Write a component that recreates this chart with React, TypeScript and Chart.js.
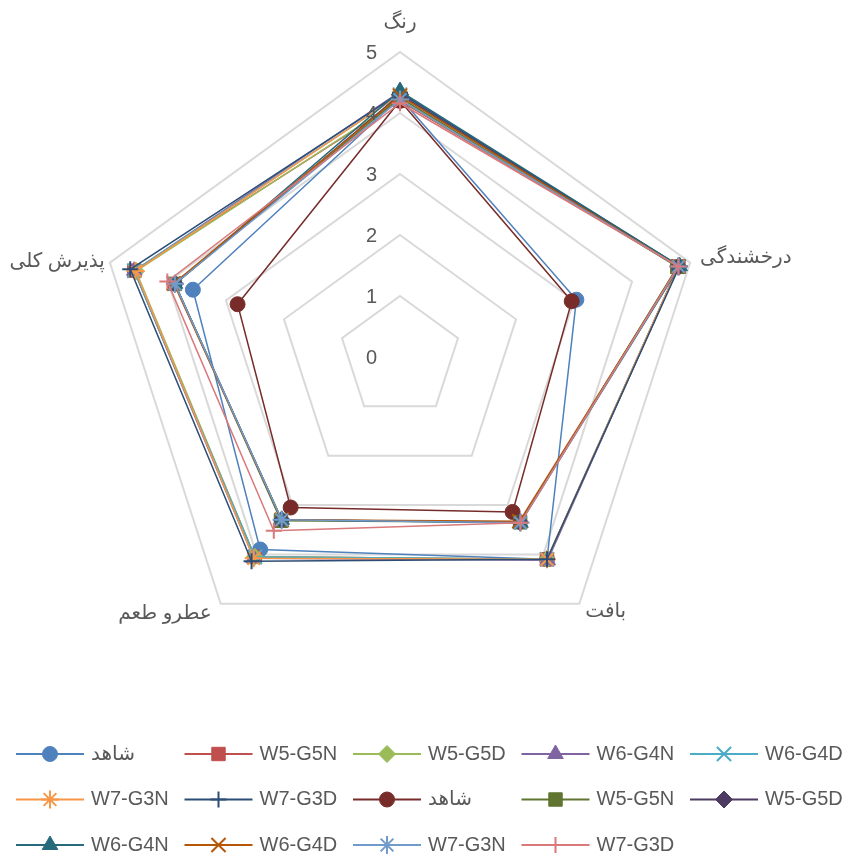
import React, { useEffect, useRef } from 'react';
import { Chart, registerables } from 'chart.js';
import { drawPoint } from 'chart.js/helpers';

Chart.register(...registerables);

// ---- data ----
const AXES = ['رنگ', 'درخشندگی', 'بافت', 'عطرو طعم', 'پذیرش کلی'];
const TICKS = [0, 1, 2, 3, 4, 5];
const SERIES_NAMES = [
  'شاهد', 'W5-G5N', 'W5-G5D', 'W6-G4N', 'W6-G4D', 'W7-G3N', 'W7-G3D',
  'شاهد', 'W5-G5N', 'W5-G5D', 'W6-G4N', 'W6-G4D', 'W7-G3N', 'W7-G3D',
];
const SHAHED_A = [4.25, 3.04, 4.1, 3.9, 3.57];
const W5_G5N_A = [4.2, 4.8, 4.1, 4.05, 4.58];
const W5_G5D_A = [4.22, 4.8, 4.1, 4.05, 4.55];
const W6_G4N_A = [4.35, 4.8, 4.12, 4.08, 4.58];
const W6_G4D_A = [4.3, 4.8, 4.1, 4.05, 4.58];
const W7_G3N_A = [4.3, 4.8, 4.1, 4.08, 4.56];
const W7_G3D_A = [4.33, 4.82, 4.1, 4.14, 4.65];
const SHAHED_B = [4.2, 2.96, 3.14, 3.05, 2.8];
const W5_G5N_B = [4.25, 4.78, 3.35, 3.32, 3.88];
const W5_G5D_B = [4.3, 4.8, 3.35, 3.3, 3.88];
const W6_G4N_B = [4.36, 4.82, 3.36, 3.3, 3.88];
const W6_G4D_B = [4.28, 4.8, 3.33, 3.3, 3.9];
const W7_G3N_B = [4.22, 4.8, 3.36, 3.3, 3.88];
const W7_G3D_B = [4.16, 4.8, 3.36, 3.52, 4.01];
const SERIES_VALUES = [
  SHAHED_A, W5_G5N_A, W5_G5D_A, W6_G4N_A, W6_G4D_A, W7_G3N_A, W7_G3D_A,
  SHAHED_B, W5_G5N_B, W5_G5D_B, W6_G4N_B, W6_G4D_B, W7_G3N_B, W7_G3D_B,
];

// ---- styles ----
const COLORS = [
  '#4F81BD', '#C0504D', '#9BBB59', '#8064A2', '#4BACC6', '#F79646', '#2C4D75',
  '#772C2A', '#5F7530', '#4D3B62', '#276A7C', '#B65708', '#729ACA', '#D9797B',
];
const MARKERS = ['circle', 'rect', 'rectRot', 'triangle', 'crossRot', 'star', 'cross'];
const MARKER_RADIUS: Record<string, number> = {
  circle: 7.5, rect: 9.5, rectRot: 8.5, triangle: 9, crossRot: 10, star: 9, cross: 8,
};
const FONT = '"Liberation Sans", "DejaVu Sans", sans-serif';
const TEXT = '#595959';

const isStroke = (s: string) => s === 'cross' || s === 'crossRot' || s === 'star';

const overlayPlugin = {
  id: 'overlay',
  afterDraw(chart: any) {
    const ctx = chart.ctx;
    const scale = chart.scales.r;
    ctx.save();
    // tick labels
    ctx.fillStyle = TEXT;
    ctx.font = `20px ${FONT}`;
    ctx.textAlign = 'right';
    ctx.textBaseline = 'middle';
    TICKS.forEach((t) => {
      const d = scale.getDistanceFromCenterForValue(t);
      ctx.fillText(String(t), scale.xCenter - 23, scale.yCenter - d + 1);
    });
    // point labels
    ctx.font = `20px ${FONT}`;
    const R = scale.drawingArea;
    const offs = [
      { dx: 0, dy: -30, align: 'center' },
      { dx: 10, dy: -5, align: 'left' },
      { dx: 6, dy: 8, align: 'left' },
      { dx: -9, dy: 10, align: 'right' },
      { dx: -5, dy: -1, align: 'right' },
    ];
    AXES.forEach((lab, i) => {
      const p = scale.getPointPosition(i, R);
      ctx.textAlign = offs[i].align;
      ctx.textBaseline = 'middle';
      ctx.fillText(lab, p.x + offs[i].dx, p.y + offs[i].dy);
    });
    // legend
    ctx.font = `20px ${FONT}`;
    ctx.textAlign = 'left';
    ctx.textBaseline = 'middle';
    SERIES_NAMES.forEach((name, i) => {
      const col = i % 5;
      const row = Math.floor(i / 5);
      const x0 = 16 + col * 168.5;
      const y = 754 + row * 45.5;
      const color = COLORS[i];
      const style = MARKERS[i % 7];
      ctx.strokeStyle = color;
      ctx.lineWidth = 2;
      ctx.beginPath();
      ctx.moveTo(x0, y);
      ctx.lineTo(x0 + 68, y);
      ctx.stroke();
      ctx.fillStyle = color;
      ctx.strokeStyle = color;
      ctx.lineWidth = isStroke(style) ? 2 : 1;
      drawPoint(ctx, { pointStyle: style, radius: MARKER_RADIUS[style], rotation: 0, borderWidth: ctx.lineWidth }, x0 + 34, y);
      ctx.fillStyle = TEXT;
      ctx.fillText(name, x0 + 75, y);
    });
    ctx.restore();
  },
};

export default function App() {
  const ref = useRef<HTMLCanvasElement | null>(null);
  useEffect(() => {
    document.body.style.margin = '0';
    const canvas = ref.current!;
    const datasets = SERIES_VALUES.map((vals, i) => {
      const style = MARKERS[i % 7];
      return {
        label: SERIES_NAMES[i],
        data: vals,
        borderColor: COLORS[i],
        backgroundColor: COLORS[i],
        borderWidth: 1.5,
        fill: false,
        pointStyle: style,
        pointRadius: MARKER_RADIUS[style],
        pointHoverRadius: MARKER_RADIUS[style],
        pointBackgroundColor: COLORS[i],
        pointBorderColor: COLORS[i],
        pointBorderWidth: isStroke(style) ? 2 : 1,
        order: SERIES_VALUES.length - i,
      };
    });
    const chart = new Chart(canvas, {
      type: 'radar',
      data: { labels: AXES, datasets },
      options: {
        animation: false,
        responsive: false,
        devicePixelRatio: 1,
        layout: { padding: { left: 95, right: 142, top: 52, bottom: 192 } },
        plugins: { legend: { display: false }, tooltip: { enabled: false } },
        elements: { line: { tension: 0 } },
        scales: {
          r: {
            min: 0,
            max: 5,
            ticks: { display: false, stepSize: 1 },
            grid: { color: '#D9D9D9', lineWidth: 2, circular: false },
            angleLines: { display: false },
            pointLabels: { display: false },
          },
        },
      },
      plugins: [overlayPlugin],
    });
    return () => chart.destroy();
  }, []);
  return (
    <div style={{ width: 847, height: 854 }}>
      <canvas ref={ref} width={847} height={854} style={{ display: 'block' }} />
    </div>
  );
}
